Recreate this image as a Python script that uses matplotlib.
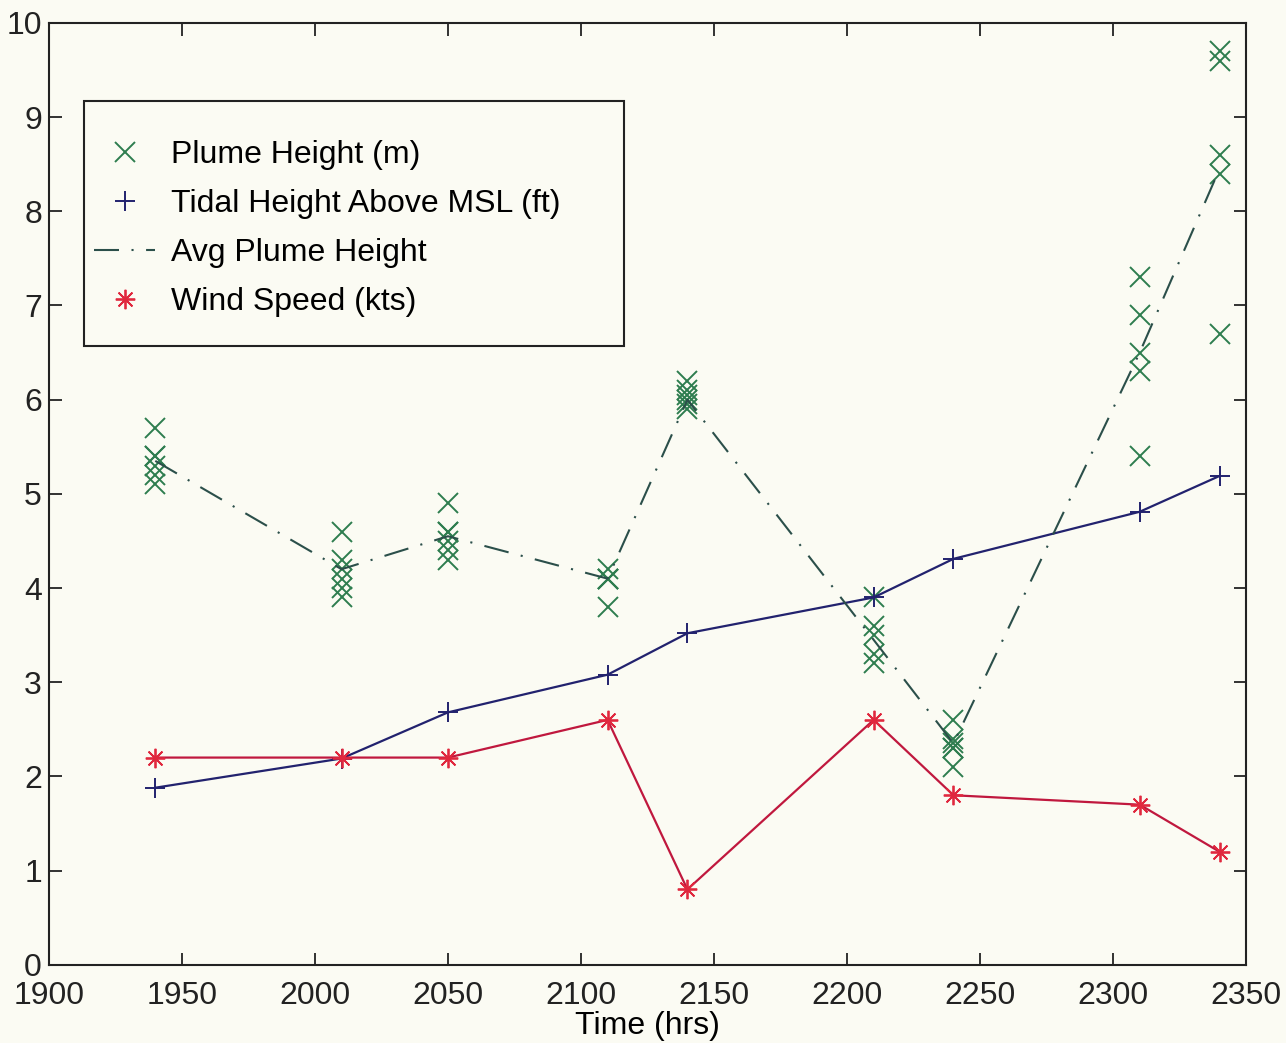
"""Plume height, tidal height and wind speed over one evening of observations."""
import matplotlib
matplotlib.use("Agg")
import matplotlib.pyplot as plt
from matplotlib.lines import Line2D
from matplotlib.patches import Rectangle

# Observation times (hhmm read as plain numbers)
times = [1940, 2010, 2050, 2110, 2140, 2210, 2240, 2310, 2340]

# Individual plume height readings (m)
plume_t = [1940] * 6 + [2010] * 6 + [2050] * 6 + [2110] * 5 + [2140] * 6 \
    + [2210] * 5 + [2240] * 6 + [2310] * 5 + [2340] * 5
plume_h = [5.7, 5.4, 5.4, 5.3, 5.2, 5.1,
           4.6, 4.3, 4.2, 4.1, 4.0, 3.9,
           4.9, 4.6, 4.6, 4.5, 4.4, 4.3,
           4.2, 4.1, 4.1, 4.1, 3.8,
           6.2, 6.1, 6.05, 6.0, 5.95, 5.9,
           3.9, 3.6, 3.5, 3.3, 3.2,
           2.6, 2.4, 2.35, 2.3, 2.3, 2.1,
           7.3, 6.9, 6.5, 6.3, 5.4,
           9.7, 9.6, 8.6, 8.4, 6.7]

avg_plume = [5.35, 4.2, 4.55, 4.1, 6.0, 3.45, 2.35, 6.5, 8.45]
tidal_ft = [1.88, 2.19, 2.68, 3.08, 3.52, 3.9, 4.31, 4.81, 5.19]
wind_kts = [2.2, 2.2, 2.2, 2.6, 0.8, 2.6, 1.8, 1.7, 1.2]

BG = "#fbfbf3"
INK = "#222222"
C_PLUME = "#2e7d4f"
C_TIDE = "#22226e"
C_AVG = "#2b4f4a"
C_WIND = "#c0183e"
C_WIND_MK = "#e0283e"
AVG_DASH = (0, (12, 6, 1, 6))
STAR = (8, 2, 0)

plt.rcParams["font.family"] = ["Liberation Sans", "DejaVu Sans"]

fig = plt.figure(figsize=(12.86, 10.43), dpi=100, facecolor=BG)
ax = fig.add_axes([0.038, 0.075, 0.931, 0.903], facecolor=BG)

ax.plot(plume_t, plume_h, ls="none", marker="x", ms=14, mew=1.4, color=C_PLUME)
ax.plot(times, tidal_ft, color=C_TIDE, lw=1.6, marker="+", ms=14, mew=1.4)
ax.plot(times, avg_plume, color=C_AVG, lw=1.5, ls=AVG_DASH)
ax.plot(times, wind_kts, color=C_WIND, lw=1.6, marker=STAR, ms=14,
        mew=1.3, mec=C_WIND_MK)

ax.set_xlim(1900, 2350)
ax.set_ylim(0, 10)
ax.set_xticks(range(1900, 2351, 50))
ax.set_yticks(range(0, 11))
ax.tick_params(direction="in", length=9, width=1.3, top=True, right=True,
               labelsize=23, colors=INK)
ax.tick_params(axis="y", pad=5)
ax.tick_params(axis="x", pad=12)
for s in ax.spines.values():
    s.set_linewidth(1.5)
    s.set_color(INK)
ax.set_xlabel("Time (hrs)", fontsize=23, labelpad=0)

# Legend: marker-only handles for the scatter-style series, framed by a
# hand-placed box so the padding is roomier than matplotlib's default.
handles = [
    Line2D([], [], ls="none", marker="x", ms=14, mew=1.4, color=C_PLUME),
    Line2D([], [], ls="none", marker="+", ms=14, mew=1.4, color=C_TIDE),
    Line2D([], [], color=C_AVG, lw=1.5, ls=AVG_DASH),
    Line2D([], [], ls="none", marker=STAR, ms=14, mew=1.3, color=C_WIND_MK),
]
labels = ["Plume Height (m)", "Tidal Height Above MSL (ft)",
          "Avg Plume Height", "Wind Speed (kts)"]
ax.legend(handles, labels, loc="upper left", bbox_to_anchor=(0.038, 0.876),
          borderaxespad=0, fontsize=23, frameon=False, handlelength=1.9,
          handletextpad=0.5, labelspacing=0.6, borderpad=0)
ax.add_patch(Rectangle((0.029, 0.657), 0.451, 0.260, transform=ax.transAxes,
                       facecolor="none", edgecolor=INK, lw=1.5, zorder=5))

fig.savefig("out.png", dpi=100, facecolor=BG)
